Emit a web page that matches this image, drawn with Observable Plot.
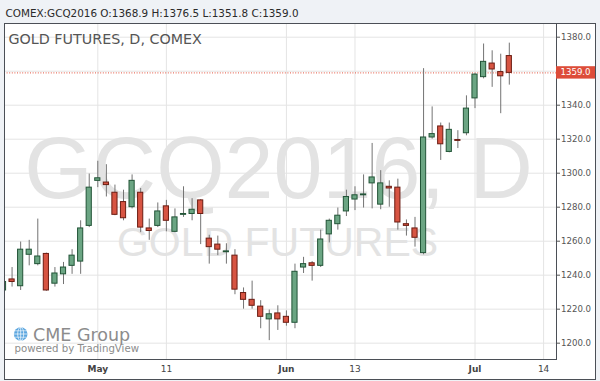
<!DOCTYPE html>
<html><head><meta charset="utf-8">
<script src="https://cdn.jsdelivr.net/npm/d3@7"></script>
<script src="https://cdn.jsdelivr.net/npm/@observablehq/plot@0.6"></script>
<style>
html,body{margin:0;padding:0;background:#eff2f6;}
svg{display:block;}
</style></head><body><div id="chart"></div>
<script>
const openP  = [1231,1237.5,1233.5,1252,1246.5,1252.5,1235,1240.5,1245.5,1248,1269,1295.5,1294.5,1288.5,1283,1280,1288.5,1267.5,1269,1280.5,1265.5,1275.5,1276,1284,1261.5,1258,1253.5,1251.5,1229.5,1225.5,1221.5,1214,1217.5,1215.5,1212,1244.5,1247,1245.5,1264,1270,1277.5,1284.5,1287,1294,1281.5,1292,1291.5,1270,1267.5,1253,1321,1327.5,1312.5,1319.5,1323.5,1344,1356.5,1364.5,1359.5,1368.9];
const highP  = [1238,1244.5,1259.5,1260.5,1273,1253,1244.5,1247.5,1255,1272,1299.5,1307,1305,1293,1290,1299,1291,1273,1282.5,1284,1279,1292,1285,1284.5,1263.5,1263,1258.5,1255,1232.5,1236.5,1225,1219.5,1222,1219,1246.5,1250.5,1248,1266.5,1273,1279.5,1290,1292,1299,1317.5,1301.5,1295.5,1296.5,1272.5,1274,1361.5,1339,1329.5,1329.5,1325,1345.5,1358.5,1376,1372,1370,1376.5];
const lowP   = [1229,1233,1231,1245.5,1245.5,1230.5,1233,1234.5,1240.5,1240.5,1268,1291.5,1286,1275,1272,1279,1265,1260.5,1268,1265.5,1265,1274,1272,1258,1246.5,1251.5,1246.5,1228.5,1220,1220,1208.5,1201.5,1207.5,1210,1208.5,1241,1236.5,1244.5,1259,1266.5,1274.5,1278,1279.5,1279,1278.5,1280,1266.5,1263,1256.5,1252,1320,1307.5,1312,1314.5,1322,1338,1355.5,1350.5,1335,1351.8];
const closeP = [1236,1236,1255,1255,1251,1231,1241,1244.5,1251.5,1267.5,1291.5,1297,1293,1275.5,1273.5,1295.5,1268,1266,1277.5,1272,1274,1276,1278.5,1276,1256.5,1255,1254,1231.5,1225.5,1222,1215.5,1217,1214,1212,1242,1246.5,1245.5,1261,1272,1275,1286,1287,1287.5,1297.5,1294,1291,1271,1269,1262,1321,1323,1317,1325.5,1319,1338,1358,1365.5,1361,1357,1359.0];

const tickBars   = [11, 19, 33, 41, 55, 63];
const tickLabels = ["May", "11", "Jun", "13", "Jul", "14"];
const yGrid  = [1200, 1220, 1240, 1260, 1280, 1300, 1320, 1340, 1360, 1380];
const yTicks = [1200, 1220, 1240, 1260, 1280, 1300, 1320, 1340, 1380];
const headerText = "COMEX:GCQ2016 O:1368.9 H:1376.5 L:1351.8 C:1359.0";
const titleText = "GOLD FUTURES, D, COMEX";
const watermark1 = "GCQ2016, D";
const watermark2 = "GOLD FUTURES";
const lastPrice = 1359.0;

const bars = openP.map((o, i) => ({i, o, h: highP[i], l: lowP[i], c: closeP[i]}));
const upBars = bars.filter(d => d.c >= d.o);
const downBars = bars.filter(d => d.c < d.o);
const monthBars = tickBars.filter((d, k) => isNaN(+tickLabels[k]));
const dayBars = tickBars.filter((d, k) => !isNaN(+tickLabels[k]));
const lab = d => tickLabels[tickBars.indexOf(d)];

const W = 600, H = 381;
const mL = 4, mR = 44, mT = 23, mB = 22;

const chart = Plot.plot({
  width: W, height: H,
  marginLeft: mL, marginRight: mR, marginTop: mT, marginBottom: mB,
  style: {background: "transparent", fontFamily: "DejaVu Sans", overflow: "visible"},
  x: {type: "linear", domain: [0.117, 64.505], axis: null, label: null},
  y: {domain: [1190.4, 1388.06], axis: null, label: null},
  marks: [
    Plot.frame({fill: "white", stroke: "none", insetRight: -39, insetBottom: -20}),
    Plot.gridY(yGrid, {stroke: "#e4e4e4", strokeOpacity: 1}),
    Plot.gridX(tickBars, {stroke: "#e4e4e4", strokeOpacity: 1}),
    Plot.text([watermark1], {text: d => d, frameAnchor: "middle", lineAnchor: "bottom", dx: -2, dy: 6,
      fontFamily: "Liberation Sans", fontSize: 88, fill: "#e3e3e3"}),
    Plot.text([watermark2], {text: d => d, frameAnchor: "middle", lineAnchor: "bottom", dx: -3, dy: 64,
      fontFamily: "Liberation Sans", fontSize: 41, fill: "#e3e3e3"}),
    Plot.text([titleText], {text: d => d, frameAnchor: "top-left", lineAnchor: "top", textAnchor: "start",
      dx: 4, dy: 10, fontSize: 14.3, fill: "#555555"}),
    Plot.text([headerText], {text: d => d, frameAnchor: "top-left", lineAnchor: "middle", textAnchor: "start",
      dx: 1, dy: -9.7, fontSize: 10.4, fill: "#2a2a2a"}),
    Plot.ruleY([lastPrice], {stroke: "#e2523d", strokeDasharray: "1,1.6", strokeWidth: 1}),
    Plot.ruleX(bars, {x: "i", y1: "l", y2: "h", stroke: "#737373", strokeWidth: 1, clip: true}),
    Plot.rect(upBars, {x1: d => d.i - 0.5, x2: d => d.i + 0.5, y1: "o", y2: "c", insetLeft: 1.7, insetRight: 1.7,
      fill: "#6ba583", stroke: "#225437", strokeWidth: 1, clip: true}),
    Plot.rect(downBars, {x1: d => d.i - 0.5, x2: d => d.i + 0.5, y1: "o", y2: "c", insetLeft: 1.7, insetRight: 1.7,
      fill: "#d75442", stroke: "#6b1c12", strokeWidth: 1, clip: true}),
    Plot.axisY(yTicks, {anchor: "right", tickSize: 3, tickPadding: 1.5, tickFormat: d => d.toFixed(1),
      fontSize: 8.6, color: "#555555", label: null}),
    Plot.axisX(monthBars, {anchor: "bottom", tickSize: 0, tickPadding: 6, tickFormat: lab,
      fontSize: 9, fontWeight: "bold", color: "#444444", label: null}),
    Plot.axisX(dayBars, {anchor: "bottom", tickSize: 0, tickPadding: 6, tickFormat: lab,
      fontSize: 9, color: "#444444", label: null}),
    Plot.frame({stroke: "#4b4f56", strokeOpacity: 1}),
    Plot.frame({stroke: "#4b4f56", strokeOpacity: 1, fill: "none", insetRight: -39, insetBottom: -20}),
    Plot.text(["CME Group"], {text: d => d, frameAnchor: "bottom-left", lineAnchor: "bottom", textAnchor: "start",
      dx: 28.5, dy: -19, fontSize: 17.5, fill: "#8c8c8c"}),
    Plot.text(["powered by TradingView"], {text: d => d, frameAnchor: "bottom-left", lineAnchor: "bottom", textAnchor: "start",
      dx: 10, dy: -7.5, fontSize: 10.2, fill: "#8c8c8c"})
  ]
});

const svg = d3.select(chart);
const yS = chart.scale("y");
const yp = yS.apply(lastPrice);
const xr = W - mR;
svg.append("rect").attr("x", xr).attr("y", yp - 6.2).attr("width", mR - 5).attr("height", 12.4)
  .attr("fill", "#dd4c39");
svg.append("text").attr("x", xr + 4.5).attr("y", yp).attr("dy", "0.34em").attr("text-anchor", "start")
  .attr("font-family", "DejaVu Sans").attr("font-size", 8.6).attr("fill", "white").text(lastPrice.toFixed(1));

// CME globe logo
const g = svg.append("g").attr("transform", `translate(${mL + 16.7},${H - mB - 25})`);
g.append("circle").attr("r", 6.8).attr("fill", "#5ba6df");
g.append("ellipse").attr("rx", 3).attr("ry", 6.8).attr("fill", "none").attr("stroke", "white").attr("stroke-width", 0.7);
g.append("line").attr("x1", -6.8).attr("x2", 6.8).attr("stroke", "white").attr("stroke-width", 0.7);
g.append("line").attr("x1", -6).attr("x2", 6).attr("y1", -3.2).attr("y2", -3.2).attr("stroke", "white").attr("stroke-width", 0.6);
g.append("line").attr("x1", -6).attr("x2", 6).attr("y1", 3.2).attr("y2", 3.2).attr("stroke", "white").attr("stroke-width", 0.6);
g.append("line").attr("y1", -6.8).attr("y2", 6.8).attr("stroke", "white").attr("stroke-width", 0.7);

document.getElementById("chart").appendChild(chart);
</script>
</body></html>
